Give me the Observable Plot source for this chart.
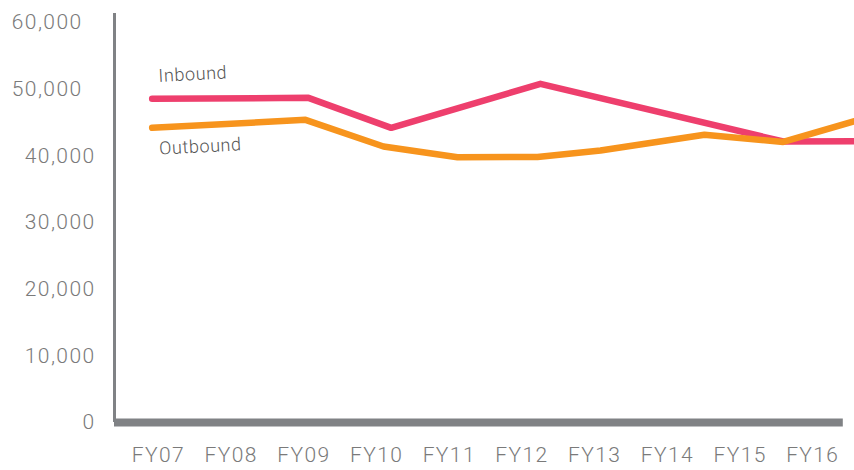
<!DOCTYPE html>
<html>
<head>
<meta charset="utf-8">
<script src="https://cdn.jsdelivr.net/npm/d3@7"></script>
<script src="https://cdn.jsdelivr.net/npm/@observablehq/plot@0.6"></script>
<style>
  html, body { margin: 0; padding: 0; background: #fff; }
  #chart svg { display: block; }
  #chart g[aria-label="y-axis tick label"] text,
  #chart g[aria-label="x-axis tick label"] text { letter-spacing: 1.4px; }
  #chart g[aria-label="text"] text { letter-spacing: 0.6px; }
</style>
</head>
<body>
<div id="chart"></div>
<script>
// x positions are in "years since FY07" (FY07 = 0)
const fyLabels = ["FY07","FY08","FY09","FY10","FY11","FY12","FY13","FY14","FY15","FY16"];
const fyTicks = [0,1,2,3,4,5,6,7,8,9];

const inboundX = [-0.087, 2.063, 3.201, 5.254, 8.593, 9.574];
const inboundY = [48550, 48700, 44200, 50800, 42150, 42200];

const outboundX = [-0.087, 2.022, 3.095, 4.113, 5.213, 6.080, 7.510, 8.593, 9.574];
const outboundY = [44200, 45400, 41400, 39800, 39820, 40800, 43150, 42080, 45200];

const yTicksLow = [0, 10000, 20000, 30000, 40000];
const yTicksHigh = [50000, 60000];

const seriesLabels = [
  {name: "Inbound", x: 0.0, y: 51950},
  {name: "Outbound", x: 0.01, y: 41050}
];

const inbound = inboundX.map((x, i) => ({x, y: inboundY[i]}));
const outbound = outboundX.map((x, i) => ({x, y: outboundY[i]}));

const fmt = d3.format(",");
const font = "Roboto, 'Helvetica Neue', Arial, sans-serif";

const chart = Plot.plot({
  width: 854,
  height: 470,
  marginLeft: 114,
  marginRight: 0,
  marginTop: 22,
  marginBottom: 48,
  style: {fontFamily: font, background: "#fff"},
  x: {domain: [-0.605, 9.574]},
  y: {domain: [0, 60000]},
  marks: [
    Plot.axisY(yTicksLow, {anchor: "left", tickSize: 0, tickPadding: 19, tickFormat: fmt,
      fontSize: 21, fontWeight: 300, fill: "#7a7a7a", label: null}),
    Plot.axisY(yTicksHigh, {anchor: "left", tickSize: 0, tickPadding: 32, tickFormat: fmt,
      fontSize: 21, fontWeight: 300, fill: "#7a7a7a", label: null}),
    Plot.axisX(fyTicks, {anchor: "bottom", tickSize: 0, tickPadding: 25,
      tickFormat: (d) => fyLabels[d], fontSize: 21, fontWeight: 300, fill: "#7a7a7a", label: null}),
    Plot.ruleX([-0.605], {y1: 0, y2: 61350, stroke: "#808285", strokeWidth: 3}),
    Plot.ruleY([0], {x1: -0.605, x2: 9.42, stroke: "#808285", strokeWidth: 8}),
    Plot.line(inbound, {x: "x", y: "y", stroke: "#ee3f6d", strokeWidth: 6.5,
      strokeLinecap: "round", strokeLinejoin: "round"}),
    Plot.line(outbound, {x: "x", y: "y", stroke: "#f7941d", strokeWidth: 6.5,
      strokeLinecap: "round", strokeLinejoin: "round"}),
    Plot.text(seriesLabels, {x: "x", y: "y", text: "name", textAnchor: "start", rotate: -3,
      fontSize: 18, fontWeight: 300, fill: "#555"})
  ]
});
document.getElementById("chart").appendChild(chart);
</script>
</body>
</html>
